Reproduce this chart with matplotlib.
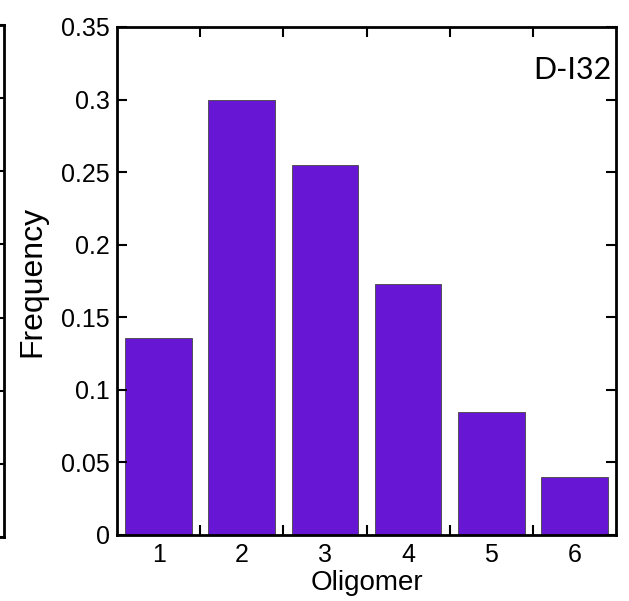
import matplotlib
matplotlib.use("Agg")
import matplotlib.pyplot as plt
import numpy as np

# oligomer distribution
oligomers = [1, 2, 3, 4, 5, 6]
frequency = [0.136, 0.300, 0.255, 0.173, 0.085, 0.040]
yticks = [0, 0.05, 0.1, 0.15, 0.2, 0.25, 0.3, 0.35]
ytick_labels = ["0", "0.05", "0.1", "0.15", "0.2", "0.25", "0.3", "0.35"]

plt.rcParams["font.family"] = ["Liberation Sans", "DejaVu Sans"]

fig = plt.figure(figsize=(6.29, 6.01), dpi=100)
W, H = 629, 601

# edge of the neighbouring panel, mostly off the figure
ax0 = fig.add_axes([-0.5, 1 - 537 / H, 0.5 + 4 / W, 512 / H])
ax0.set_ylim(0, 0.35)
ax0.set_yticks(yticks)
ax0.tick_params(axis="y", which="both", direction="in", right=True, left=False,
                labelleft=False, length=7, width=1.5)
ax0.set_xticks([])
for s in ax0.spines.values():
    s.set_linewidth(2)

ax = fig.add_axes([117 / W, 1 - 535 / H, 499 / W, 508 / H])
ax.bar(oligomers, frequency, width=0.8, color="#6716d4", edgecolor="#444444", linewidth=0.6)
ax.set_xlim(0.5, 6.5)
ax.set_ylim(0, 0.35)
ax.set_yticks(yticks)
ax.set_yticklabels(ytick_labels)

# ticks between bars, labels under bar centres
ax.set_xticks(np.arange(1.5, 6.5, 1))
ax.set_xticklabels([])
ax.set_xticks(oligomers, minor=True)
ax.set_xticklabels([str(o) for o in oligomers], minor=True)
ax.tick_params(axis="x", which="minor", length=0, labelsize=18, pad=6)
ax.tick_params(axis="x", which="major", direction="in", top=True, length=7, width=1.5)
ax.tick_params(axis="y", direction="in", right=True, length=7, width=1.5, labelsize=18, pad=5)
for s in ax.spines.values():
    s.set_linewidth(2)

ax.set_xlabel("Oligomer", fontsize=20, labelpad=2)
ax.set_ylabel("Frequency", fontsize=23, labelpad=10)
ax.text(0.99, 0.915, "D-I32", transform=ax.transAxes, ha="right", va="center",
        fontsize=22, family=["Lato", "DejaVu Sans"])

fig.savefig("out.png", dpi=100)
